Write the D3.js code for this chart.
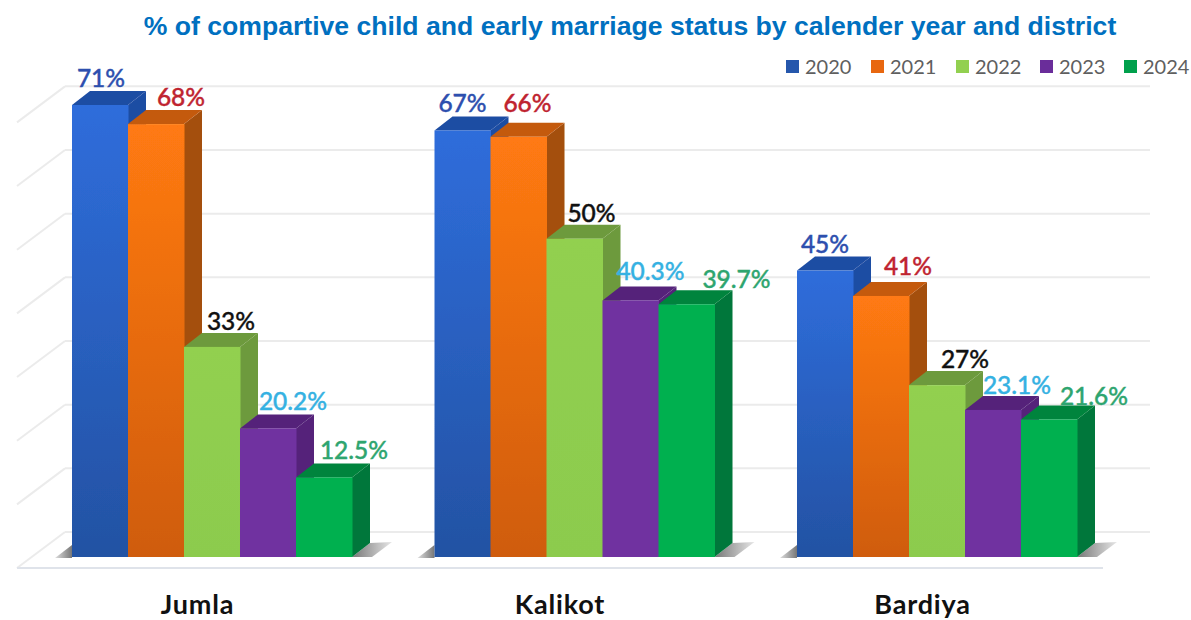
<!DOCTYPE html>
<html><head><meta charset="utf-8">
<script src="https://cdn.jsdelivr.net/npm/d3@7/dist/d3.min.js"></script>
<style>html,body{margin:0;background:#fff}svg{display:block}</style></head>
<body><svg id="c" width="1191" height="620"></svg>
<script>
const categories = ["Jumla", "Kalikot", "Bardiya"];
const years = ["2020", "2021", "2022", "2023", "2024"];
const v2020 = [71, 67, 45];
const v2021 = [68, 66, 41];
const v2022 = [33, 50, 27];
const v2023 = [20.2, 40.3, 23.1];
const v2024 = [12.5, 39.7, 21.6];
const labels2020 = ["71%", "67%", "45%"];
const labels2021 = ["68%", "66%", "41%"];
const labels2022 = ["33%", "50%", "27%"];
const labels2023 = ["20.2%", "40.3%", "23.1%"];
const labels2024 = ["12.5%", "39.7%", "21.6%"];
const gridTicks = [0, 10, 20, 30, 40, 50, 60, 70];

const series = [v2020, v2021, v2022, v2023, v2024];
const seriesLabels = [labels2020, labels2021, labels2022, labels2023, labels2024];

// layout + style
const faceTop = ["#2f6ddb", "#ff7a12", "#92d050", "#7030a0", "#00b050"];
const faceBottom = ["#2352a3", "#cf5c0c", "#8ccb4e", "#7030a0", "#00b050"];
const topFace = ["#1f4da3", "#c45a0c", "#6d9a3c", "#54237a", "#00843c"];
const sideFace = ["#1f4da3", "#a4500d", "#6d9a3c", "#54237a", "#00773a"];
const swatch = ["#2557ac", "#e8670f", "#92d050", "#6a2d9a", "#00a04c"];
const labelColor = ["#2d4fae", "#bf2430", "#111111", "#35b1e2", "#2ea56f"];
const labelShiftX = [[1, 25, 19, 25, 30], [0, 9, 17, 20, 50], [0, 27, 28, 24, 45]];
const labelShiftY = [[-28, -28, -26, -28, -28], [-28, -34, -26, -30, -26], [-27, -30, -27, -25, -24]];
const legendX = [786, 871, 956, 1040, 1124];
const depthX = 18, depthY = 14, wallX = 48, wallBack = 25, floorFront = 11;

const svg = d3.select("#c");
const defs = svg.append("defs");
const y = d3.scaleLinear().domain([0, 71]).range([557, 105]);
const x0 = d3.scalePoint().domain(categories).range([212, 937]);
const x1 = d3.scaleBand().domain(years).range([-140, 140]);
const w = x1.bandwidth();

years.forEach((yr, i) => {
  const g = defs.append("linearGradient").attr("id", "g" + i)
    .attr("x1", 0).attr("y1", 0).attr("x2", 0).attr("y2", 1);
  g.append("stop").attr("offset", "0%").attr("stop-color", faceTop[i]);
  g.append("stop").attr("offset", "100%").attr("stop-color", faceBottom[i]);
});
const sg = defs.append("linearGradient").attr("id", "shadow").attr("x1", 0).attr("y1", 0).attr("x2", 1).attr("y2", 0);
sg.append("stop").attr("offset", "0%").attr("stop-color", "#777");
sg.append("stop").attr("offset", "100%").attr("stop-color", "#e6e6e6");
const sl = defs.append("linearGradient").attr("id", "shadowL").attr("x1", 0).attr("y1", 0).attr("x2", 1).attr("y2", 0);
sl.append("stop").attr("offset", "0%").attr("stop-color", "#ddd");
sl.append("stop").attr("offset", "100%").attr("stop-color", "#777");
defs.append("filter").attr("id", "soft").append("feGaussianBlur").attr("stdDeviation", 0.5);

const plot = svg.append("g").attr("filter", "url(#soft)");
const gridColor = "#ebebeb";

// back wall lines and the slanted side wall
const wallLeft = 17 + wallX;
plot.append("g").selectAll("line.grid").data(gridTicks).join("line")
  .attr("x1", wallLeft).attr("x2", 1150)
  .attr("y1", d => y(d) - wallBack).attr("y2", d => y(d) - wallBack)
  .attr("stroke", gridColor).attr("stroke-width", 2);
plot.append("g").selectAll("line.side").data(gridTicks).join("line")
  .attr("x1", 17).attr("x2", wallLeft)
  .attr("y1", d => y(d) + floorFront).attr("y2", d => y(d) - wallBack)
  .attr("stroke", gridColor).attr("stroke-width", 2);
plot.append("line").attr("x1", 17).attr("x2", 1103)
  .attr("y1", y(0) + floorFront).attr("y2", y(0) + floorFront)
  .attr("stroke", "#dfe3ea").attr("stroke-width", 2);

// groups
categories.forEach((cat, c) => {
  const cx = x0(cat);
  const g = plot.append("g");
  const left = cx + x1(years[0]);
  const right = cx + x1(years[4]) + w;
  const pts = a => a.map(p => p.join(",")).join(" ");
  g.append("polygon").attr("fill", "url(#shadowL)")
    .attr("points", pts([[left - 17, y(0) + 1], [left, y(0) + 1], [left, y(0) - 12]]));
  g.append("polygon").attr("fill", "url(#shadow)")
    .attr("points", pts([[right, y(0)], [right + depthX, y(0) - depthY], [right + 40, y(0) - 15], [right + 20, y(0)]]));

  years.forEach((yr, i) => {
    const v = series[i][c];
    const xx = cx + x1(yr);
    const t = y(v), b = y(0);
    g.append("polygon").attr("fill", sideFace[i])
      .attr("points", pts([[xx + w, t], [xx + w + depthX, t - depthY], [xx + w + depthX, b - depthY], [xx + w, b]]));
    g.append("polygon").attr("fill", topFace[i])
      .attr("points", pts([[xx, t], [xx + depthX, t - depthY], [xx + w + depthX, t - depthY], [xx + w, t]]));
    g.append("rect").attr("x", xx).attr("y", t).attr("width", w + 0.5).attr("height", b - t)
      .attr("fill", "url(#g" + i + ")");
  });
});

// value labels
const textFont = "Lato, 'Open Sans', sans-serif";
categories.forEach((cat, c) => {
  years.forEach((yr, i) => {
    svg.append("text")
      .attr("x", x0(cat) + x1(yr) + w / 2 + labelShiftX[c][i])
      .attr("y", y(series[i][c]) + labelShiftY[c][i])
      .attr("text-anchor", "middle").attr("dominant-baseline", "central")
      .attr("font-family", textFont).attr("font-size", 24.5).attr("font-weight", 500)
      .attr("fill", labelColor[i]).attr("stroke", labelColor[i]).attr("stroke-width", 0.4)
      .text(seriesLabels[i][c]);
  });
});

// category labels
svg.append("g").selectAll("text").data(categories).join("text")
  .attr("x", d => x0(d) - 14.5).attr("y", 614)
  .attr("text-anchor", "middle")
  .attr("font-family", textFont).attr("font-size", 27).attr("font-weight", 700).attr("fill", "#111")
  .attr("letter-spacing", 0.8)
  .text(d => d);

// legend
const leg = svg.append("g").selectAll("g").data(years).join("g")
  .attr("transform", (d, i) => `translate(${legendX[i]},60)`);
leg.append("rect").attr("width", 13).attr("height", 13).attr("fill", (d, i) => swatch[i]);
leg.append("text").attr("x", 19).attr("y", 13.5)
  .attr("font-family", textFont).attr("font-size", 20).attr("fill", "#5f5f5f").text(d => d);

// title
svg.append("text").attr("x", 630).attr("y", 35).attr("text-anchor", "middle")
  .attr("font-family", "'Liberation Sans', Arial, sans-serif").attr("font-weight", 700)
  .attr("font-size", 26.6).attr("fill", "#0070c0")
  .text("% of compartive child and early marriage status by calender year and district");
</script></body></html>
